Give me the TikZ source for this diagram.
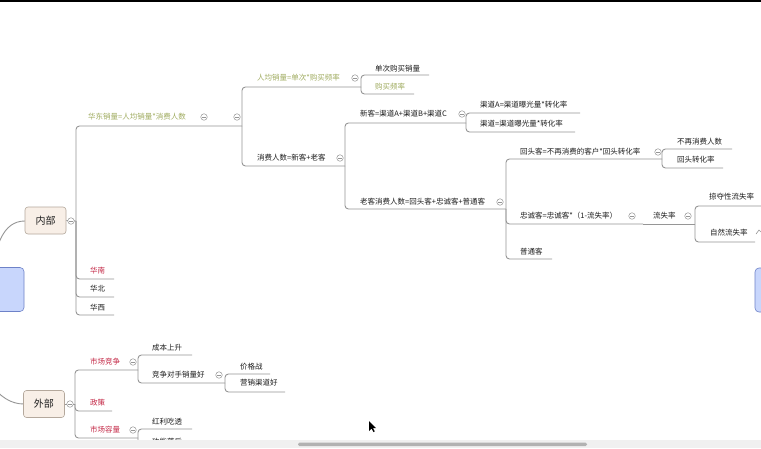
\documentclass[tikz,border=0pt]{standalone}
\usepackage{fontspec}
\newfontfamily\cjk{Noto Sans CJK SC}
\definecolor{linec}{RGB}{150,150,150}
\definecolor{txt}{RGB}{30,30,30}
\definecolor{olive}{RGB}{160,172,96}
\definecolor{redc}{RGB}{196,40,70}
\definecolor{topicfill}{RGB}{248,239,231}
\definecolor{topicdraw}{RGB}{180,168,156}
\definecolor{rootfill}{RGB}{200,214,252}
\definecolor{rootdraw}{RGB}{110,130,200}
\tikzset{
  conn/.style={draw=linec, line width=0.9pt, rounded corners=3.5pt},
  lbl/.style={anchor=west, inner sep=0pt, text=txt, font=\cjk\fontsize{7.5}{9}\selectfont},
  olv/.style={lbl, text=olive},
  rd/.style={lbl, text=redc},
  tog/.style={circle, draw=linec, line width=0.5pt, minimum size=6.5pt, inner sep=0pt, fill=white,
    path picture={\draw[linec,line width=0.5pt] ([xshift=-1.8pt]path picture bounding box.center) -- ([xshift=1.8pt]path picture bounding box.center);}},
  topic/.style={draw=topicdraw, fill=topicfill, line width=0.6pt, rounded corners=3pt, minimum width=41pt, minimum height=27pt, inner sep=0pt, text=txt, font=\cjk\fontsize{10}{12}\selectfont},
}
\begin{document}
\begin{tikzpicture}[x=1pt,y=-1pt]
\useasboundingbox (0,0) rectangle (761,448);
\clip (0,0) rectangle (761,448);
\fill[white] (0,0) rectangle (761,448);
% root curves
\draw[linec, line width=0.9pt] (-10,289) .. controls (-6,245) and (3,221) .. (25,221);
\draw[linec, line width=0.9pt] (-40,289) .. controls (-25,380) and (0,404) .. (24,404);
% root nodes (partially visible)
\node[draw=rootdraw, fill=rootfill, line width=0.6pt, rounded corners=4pt, minimum width=84pt, minimum height=44pt, inner sep=0pt] (root) at (-18,289.5) {};
\node[draw=rootdraw, fill=rootfill, line width=0.6pt, rounded corners=4pt, minimum width=84pt, minimum height=44pt, inner sep=0pt] (root2) at (797,290) {};
\draw[linec, line width=0.6pt] (756,234) -- (759,230) -- (761,232);
% topics
\node[topic] (nb) at (45.5,220.5) {内部};
\node[topic] (wb) at (44,404) {外部};
% joints
\coordinate (j0) at (76,221);
\coordinate (j1) at (242,126);
\coordinate (j2) at (361,87);
\coordinate (j3) at (345,166);
\coordinate (j4) at (466,123);
\coordinate (j5) at (506,209);
\coordinate (j6) at (662,159);
\coordinate (j7) at (643,224);
\coordinate (j8) at (695,224);
\coordinate (k0) at (75,404);
\coordinate (k1) at (138,370);
\coordinate (k2) at (225,383);
\coordinate (k3) at (138,438);
% leaf underline ends
\coordinate (e1) at (429,75);
\coordinate (e2) at (414,94);
\coordinate (e3) at (580,113);
\coordinate (e4) at (575,132);
\coordinate (e5) at (732,149);
\coordinate (e6) at (723,168);
\coordinate (e7) at (770,206);
\coordinate (e8) at (755,242);
\coordinate (e9) at (552,259);
\coordinate (h1) at (114,279);
\coordinate (h2) at (114,297);
\coordinate (h3) at (114,315);
\coordinate (f1) at (192,355);
\coordinate (f2) at (270,374);
\coordinate (f3) at (285,392);
\coordinate (f4) at (112,411);
\coordinate (f5) at (192,429);
\coordinate (f6) at (192,447);
% connectors
\draw[conn] (nb.east) -- (j0);
\draw[conn] (j0) |- (j1);
\draw[conn] (j0) |- (h1);
\draw[conn] (j0) |- (h2);
\draw[conn] (j0) |- (h3);
\draw[conn] (j1) |- (j2);
\draw[conn] (j1) |- (j3);
\draw[conn] (j2) |- (e1);
\draw[conn] (j2) |- (e2);
\draw[conn] (j3) |- (j4);
\draw[conn] (j3) |- (j5);
\draw[conn] (j4) |- (e3);
\draw[conn] (j4) |- (e4);
\draw[conn] (j5) |- (j6);
\draw[conn] (j5) |- (j7);
\draw[conn] (j5) |- (e9);
\draw[conn] (j6) |- (e5);
\draw[conn] (j6) |- (e6);
\draw[conn] (j7) -- (j8);
\draw[conn] (j8) |- (e7);
\draw[conn] (j8) |- (e8);
\draw[conn] (wb.east) -- (k0);
\draw[conn] (k0) |- (k1);
\draw[conn] (k0) |- (f4);
\draw[conn] (k0) |- (k3);
\draw[conn] (k1) |- (f1);
\draw[conn] (k1) |- (k2);
\draw[conn] (k2) |- (f2);
\draw[conn] (k2) |- (f3);
\draw[conn] (k3) |- (f5);
\draw[conn] (k3) |- (f6);
% toggles
\node[tog] (t0) at (71,221) {};
\node[tog] (t1) at (204,117) {};
\node[tog] (t1b) at (237,117) {};
\node[tog] (t2) at (355,78) {};
\node[tog] (t3) at (340,158) {};
\node[tog] (t4) at (462,114) {};
\node[tog] (t5) at (500,202) {};
\node[tog] (t6) at (658,152) {};
\node[tog] (t7) at (632,216) {};
\node[tog] (t8) at (688,216) {};
\node[tog] (u0) at (70,404) {};
\node[tog] (u1) at (133,362) {};
\node[tog] (u2) at (219,375) {};
\node[tog] (u3) at (133,430) {};
% labels
\node[olv] (n1) at (88,117) {华东销量=人均销量*消费人数};
\node[olv] (n2) at (257,78) {人均销量=单次*购买频率};
\node[lbl] (n3) at (375,69) {单次购买销量};
\node[olv] (n4) at (375,87) {购买频率};
\node[lbl] (n5) at (257,158) {消费人数=新客+老客};
\node[lbl] (n6) at (360,114) {新客=渠道A+渠道B+渠道C};
\node[lbl] (n7) at (480,105) {渠道A=渠道曝光量*转化率};
\node[lbl] (n8) at (480,124) {渠道=渠道曝光量*转化率};
\node[lbl] (n9) at (360,202) {老客消费人数=回头客+忠诚客+普通客};
\node[lbl] (n10) at (520,152) {回头客=不再消费的客户*回头转化率};
\node[lbl] (n11) at (677,142) {不再消费人数};
\node[lbl] (n12) at (677,160) {回头转化率};
\node[lbl] (n13) at (520,216) {忠诚客=忠诚客*（1-流失率）};
\node[lbl] (n14) at (653,216) {流失率};
\node[lbl] (n15) at (709,197) {掠夺性流失率};
\node[lbl] (n16) at (710,233) {自然流失率};
\node[lbl] (n17) at (520,252) {普通客};
\node[rd] (n18) at (90,271) {华南};
\node[lbl] (n19) at (90,289) {华北};
\node[lbl] (n20) at (90,308) {华西};
\node[rd] (m1) at (90,362) {市场竞争};
\node[lbl] (m2) at (152,348) {成本上升};
\node[lbl] (m3) at (152,375) {竞争对手销量好};
\node[lbl] (m4) at (240,367) {价格战};
\node[lbl] (m5) at (240,383) {营销渠道好};
\node[rd] (m6) at (90,403) {政策};
\node[rd] (m7) at (90,430) {市场容量};
\node[lbl] (m8) at (152,422) {红利吃透};
\node[lbl] (m9) at (152,441.5) {功能落后};
% cursor
\fill[black] (369,421) -- (369,431) -- (371.5,428.5) -- (373.5,432) -- (374.8,431.3) -- (372.8,428) -- (376,428) -- cycle;
% top bar
\fill[black] (0,0) rectangle (761,2);
% bottom scrollbar
\fill[black!6] (0,439.5) rectangle (761,448);
\fill[black!30, rounded corners=1.5pt] (298,442.5) rectangle (587,446);
\end{tikzpicture}
\end{document}
